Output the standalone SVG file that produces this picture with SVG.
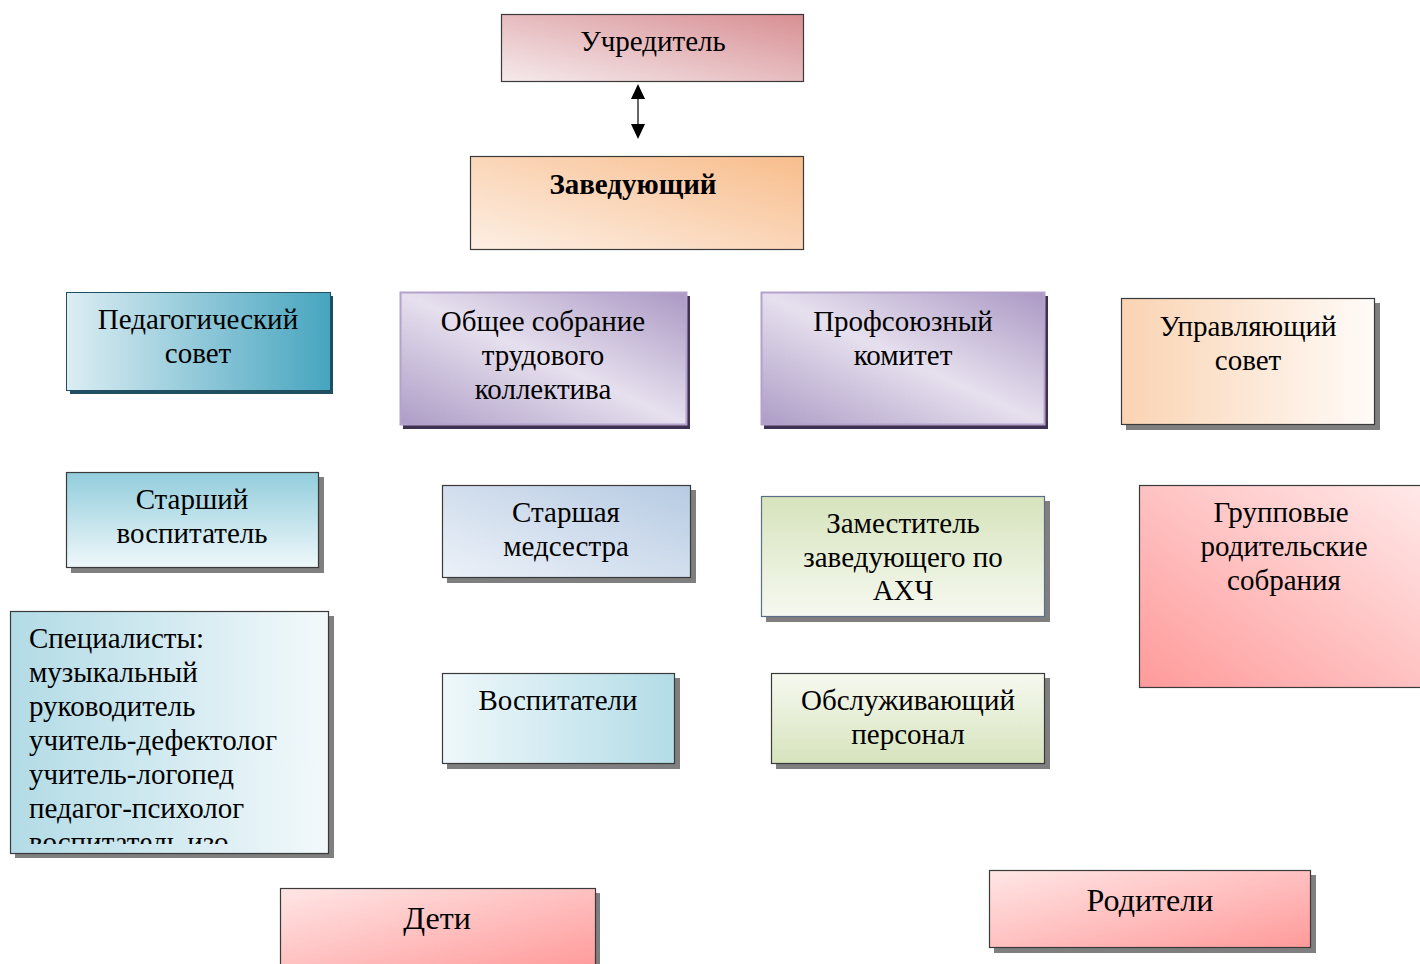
<svg xmlns="http://www.w3.org/2000/svg" width="1420" height="964" viewBox="0 0 1420 964">
<style>
text{font-family:"Liberation Serif","Times New Roman",serif;font-size:29px;fill:#000;text-anchor:middle}
.big{font-size:32px}
.b{stroke:#3a3a3a;stroke-width:1.2}
.sg{fill:#7f7f7f}
.sl{text-anchor:start}
</style>
<defs>
<linearGradient id="gU" x1="0" y1="1" x2="1" y2="0"><stop offset="0" stop-color="#f5eaec"/><stop offset="1" stop-color="#d88f93"/></linearGradient>
<linearGradient id="gZ" x1="0" y1="1" x2="1" y2="0"><stop offset="0" stop-color="#fdefe4"/><stop offset="1" stop-color="#f8bd8c"/></linearGradient>
<linearGradient id="gP" x1="0" y1="0" x2="1" y2="0"><stop offset="0" stop-color="#dcedf3"/><stop offset="1" stop-color="#46a5bf"/></linearGradient>
<linearGradient id="gV" x1="0" y1="1" x2="1" y2="0"><stop offset="0" stop-color="#ad9cc6"/><stop offset="0.5" stop-color="#e6e0ee"/><stop offset="1" stop-color="#ab98c4"/></linearGradient>
<linearGradient id="gUS" x1="0" y1="0" x2="1" y2="0"><stop offset="0" stop-color="#fad3b2"/><stop offset="1" stop-color="#fffbf8"/></linearGradient>
<linearGradient id="gSV" x1="0" y1="0" x2="0" y2="1"><stop offset="0" stop-color="#92cddc"/><stop offset="1" stop-color="#eff8fa"/></linearGradient>
<linearGradient id="gSM" x1="0" y1="1" x2="1" y2="0"><stop offset="0" stop-color="#ecf1f8"/><stop offset="1" stop-color="#b7cbe3"/></linearGradient>
<linearGradient id="gZA" x1="0" y1="0" x2="0" y2="1"><stop offset="0" stop-color="#d6e3bc"/><stop offset="1" stop-color="#f6f9f0"/></linearGradient>
<linearGradient id="gGR" x1="0" y1="1" x2="1" y2="0"><stop offset="0" stop-color="#ff9a9a"/><stop offset="1" stop-color="#ffeaea"/></linearGradient>
<linearGradient id="gSP" x1="0" y1="0" x2="1" y2="0"><stop offset="0" stop-color="#b2dbe6"/><stop offset="1" stop-color="#f3f9fb"/></linearGradient>
<linearGradient id="gVO" x1="0" y1="0" x2="1" y2="0"><stop offset="0" stop-color="#eff8fa"/><stop offset="1" stop-color="#b3dce7"/></linearGradient>
<linearGradient id="gOB" x1="0" y1="0" x2="0" y2="1"><stop offset="0" stop-color="#f6f9f0"/><stop offset="1" stop-color="#d6e3bc"/></linearGradient>
<linearGradient id="gD" x1="0" y1="0" x2="1" y2="1"><stop offset="0" stop-color="#ffe6e6"/><stop offset="1" stop-color="#ff9a9a"/></linearGradient>
<clipPath id="cSp"><rect x="10" y="611" width="319" height="233"/></clipPath>
</defs>

<g id="connectors">
<line x1="638" y1="99" x2="638" y2="124" stroke="#000" stroke-width="1.2"/>
<path d="M631,99 L638,84 L645,99 z" fill="#000"/>
<path d="M631,124 L638,139 L645,124 z" fill="#000"/>
</g>

<g id="uchreditel">
<rect x="501.5" y="14.5" width="302" height="67" fill="url(#gU)" class="b"/>
<text x="653" y="51">Учредитель</text>
</g>

<g id="zaveduyushchiy">
<rect x="470.5" y="156.5" width="333" height="93" fill="url(#gZ)" class="b"/>
<text x="633" y="194" font-weight="bold">Заведующий</text>
</g>

<g id="pedsovet">
<rect x="70" y="296" width="263" height="98" fill="#1f4f60"/>
<rect x="66.5" y="292.5" width="264" height="98" fill="url(#gP)" stroke="#1f4f60" stroke-width="1"/>
<text x="198" y="329">Педагогический</text>
<text x="198" y="363">совет</text>
</g>

<g id="obshchee">
<rect x="403" y="296" width="287" height="133" fill="#3f3151"/>
<rect x="400.5" y="292.5" width="286" height="132" fill="url(#gV)" stroke="#b3a2cc" stroke-width="2"/>
<text x="543" y="331">Общее собрание</text>
<text x="543" y="365">трудового</text>
<text x="543" y="399">коллектива</text>
</g>

<g id="profkom">
<rect x="764" y="296" width="284" height="133" fill="#3f3151"/>
<rect x="761.5" y="292.5" width="283" height="132" fill="url(#gV)" stroke="#b3a2cc" stroke-width="2"/>
<text x="903" y="331">Профсоюзный</text>
<text x="903" y="365">комитет</text>
</g>

<g id="upravlyayushchiy">
<rect x="1126" y="303" width="254" height="127" class="sg"/>
<rect x="1121.5" y="298.5" width="253" height="126" fill="url(#gUS)" class="b"/>
<text x="1248" y="336">Управляющий</text>
<text x="1248" y="370">совет</text>
</g>

<g id="starshiy-vospitatel">
<rect x="71" y="477" width="253" height="96" class="sg"/>
<rect x="66.5" y="472.5" width="252" height="95" fill="url(#gSV)" class="b"/>
<text x="192" y="509">Старший</text>
<text x="192" y="543">воспитатель</text>
</g>

<g id="starshaya-medsestra">
<rect x="447" y="490" width="249" height="93" class="sg"/>
<rect x="442.5" y="485.5" width="248" height="92" fill="url(#gSM)" class="b"/>
<text x="566" y="522">Старшая</text>
<text x="566" y="556">медсестра</text>
</g>

<g id="zamestitel">
<rect x="766" y="501" width="284" height="121" class="sg"/>
<rect x="761.5" y="496.5" width="283" height="120" fill="url(#gZA)" stroke="#5a6e8a" stroke-width="1.2"/>
<text x="903" y="533">Заместитель</text>
<text x="903" y="567">заведующего по</text>
<text x="903" y="600">АХЧ</text>
</g>

<g id="gruppovye">
<rect x="1139.5" y="485.5" width="290" height="202" fill="url(#gGR)" class="b"/>
<text x="1281" y="522">Групповые</text>
<text x="1284" y="556">родительские</text>
<text x="1284" y="590">собрания</text>
</g>

<g id="specialisty">
<rect x="15" y="616" width="319" height="242" class="sg"/>
<rect x="10.5" y="611.5" width="318" height="242" fill="url(#gSP)" class="b"/>
<g clip-path="url(#cSp)">
<text class="sl" x="29" y="648">Специалисты:</text>
<text class="sl" x="29" y="682">музыкальный</text>
<text class="sl" x="29" y="716">руководитель</text>
<text class="sl" x="29" y="750">учитель-дефектолог</text>
<text class="sl" x="29" y="784">учитель-логопед</text>
<text class="sl" x="29" y="818">педагог-психолог</text>
<text class="sl" x="29" y="852">воспитатель изо</text>
</g>
</g>

<g id="vospitateli">
<rect x="447" y="678" width="233" height="91" class="sg"/>
<rect x="442.5" y="673.5" width="232" height="90" fill="url(#gVO)" class="b"/>
<text x="558" y="710">Воспитатели</text>
</g>

<g id="obsluzhivayushchiy">
<rect x="776" y="678" width="274" height="91" class="sg"/>
<rect x="771.5" y="673.5" width="273" height="90" fill="url(#gOB)" class="b"/>
<text x="908" y="710">Обслуживающий</text>
<text x="908" y="744">персонал</text>
</g>

<g id="deti">
<rect x="285" y="893" width="315" height="80" class="sg"/>
<rect x="280.5" y="888.5" width="315" height="80" fill="url(#gD)" class="b"/>
<text class="big" x="437" y="929">Дети</text>
</g>

<g id="roditeli">
<rect x="994" y="875" width="322" height="78" class="sg"/>
<rect x="989.5" y="870.5" width="321" height="77" fill="url(#gD)" class="b"/>
<text class="big" x="1150" y="911">Родители</text>
</g>
</svg>
